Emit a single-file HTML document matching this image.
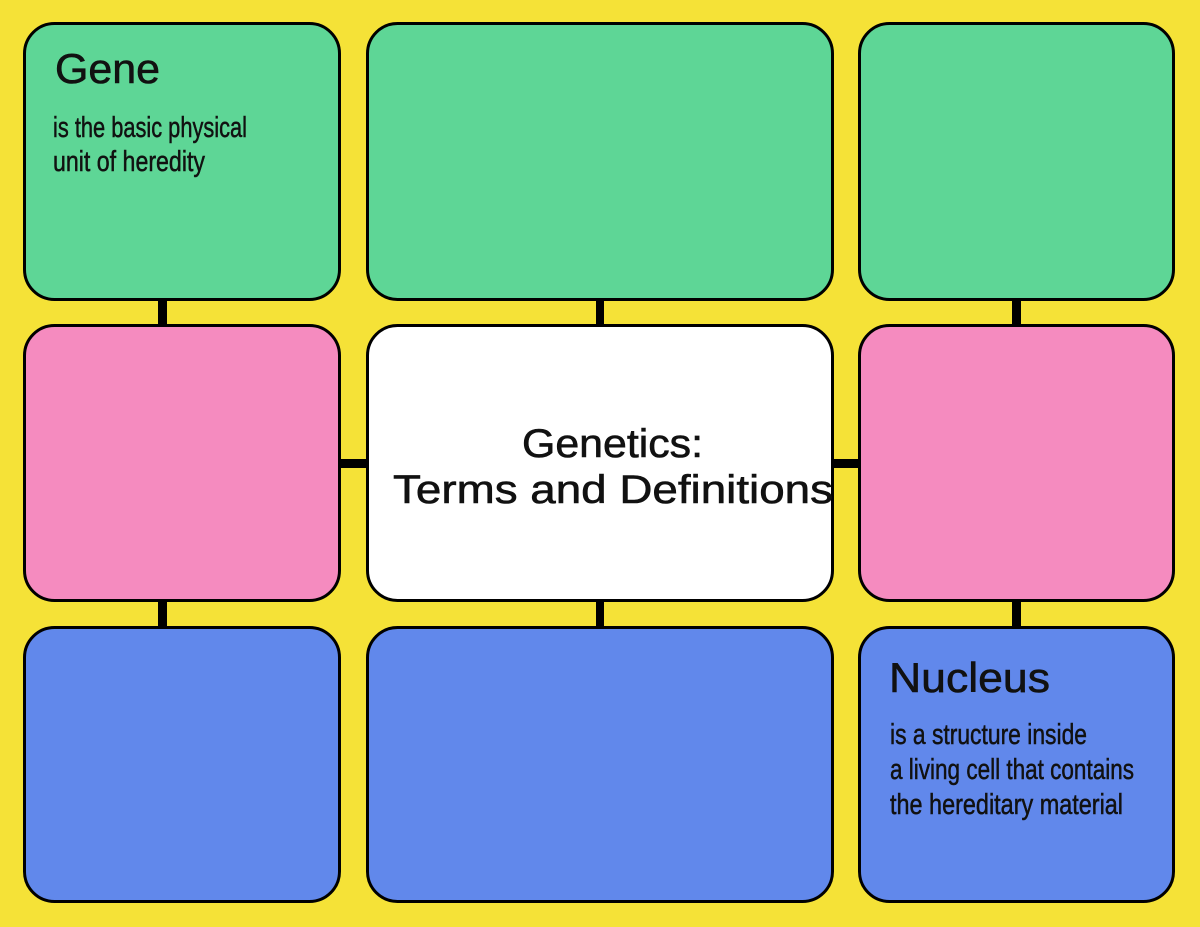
<!DOCTYPE html>
<html>
<head>
<meta charset="utf-8">
<style>
  html, body { margin: 0; padding: 0; background: #F5E237; }
  body { width: 1200px; height: 927px; overflow: hidden; }
  svg { display: block; }
  .t { font-family: "Liberation Sans", "DejaVu Sans", sans-serif; fill: #111; }
  .h { stroke: #111; stroke-width: 0.6; }
  .b { stroke: #111; stroke-width: 0.5; }
</style>
</head>
<body>
<svg width="1200" height="927" viewBox="0 0 1200 927" xmlns="http://www.w3.org/2000/svg">
  <rect x="0" y="0" width="1200" height="927" fill="#F5E237"/>

  <!-- connectors -->
  <g fill="#000">
    <rect x="158" y="298" width="9" height="30"/>
    <rect x="596" y="298" width="8" height="30"/>
    <rect x="1012" y="298" width="9" height="30"/>
    <rect x="158" y="599" width="9" height="30"/>
    <rect x="596" y="599" width="8" height="30"/>
    <rect x="1012" y="599" width="9" height="30"/>
    <rect x="338" y="459" width="31" height="9"/>
    <rect x="831" y="459" width="30" height="9"/>
  </g>

  <!-- boxes -->
  <g stroke="#000" stroke-width="3">
    <rect x="24.5" y="23.5" width="315" height="276" rx="30" fill="#5ED696"/>
    <rect x="367.5" y="23.5" width="465" height="276" rx="30" fill="#5ED696"/>
    <rect x="859.5" y="23.5" width="314" height="276" rx="30" fill="#5ED696"/>
    <rect x="24.5" y="325.5" width="315" height="275" rx="30" fill="#F58BBF"/>
    <rect x="367.5" y="325.5" width="465" height="275" rx="30" fill="#FFFFFF"/>
    <rect x="859.5" y="325.5" width="314" height="275" rx="30" fill="#F58BBF"/>
    <rect x="24.5" y="627.5" width="315" height="274" rx="30" fill="#6188EB"/>
    <rect x="367.5" y="627.5" width="465" height="274" rx="30" fill="#6188EB"/>
    <rect x="859.5" y="627.5" width="314" height="274" rx="30" fill="#6188EB"/>
  </g>

  <!-- Gene -->
  <text class="t h" x="55" y="83" font-size="42" textLength="105" lengthAdjust="spacingAndGlyphs">Gene</text>
  <text class="t b" x="53" y="137" font-size="29" textLength="194" lengthAdjust="spacingAndGlyphs">is the basic physical</text>
  <text class="t b" x="53" y="171" font-size="29" textLength="152" lengthAdjust="spacingAndGlyphs">unit of heredity</text>

  <!-- Center title -->
  <text class="t h" x="522" y="457" font-size="40" textLength="181" lengthAdjust="spacingAndGlyphs">Genetics:</text>
  <text class="t h" x="393" y="503" font-size="40" textLength="440" lengthAdjust="spacingAndGlyphs">Terms and Definitions</text>

  <!-- Nucleus -->
  <text class="t h" x="889" y="692" font-size="42" textLength="161" lengthAdjust="spacingAndGlyphs">Nucleus</text>
  <text class="t b" x="890" y="744" font-size="29" textLength="197" lengthAdjust="spacingAndGlyphs">is a structure inside</text>
  <text class="t b" x="890" y="779" font-size="29" textLength="244" lengthAdjust="spacingAndGlyphs">a living cell that contains</text>
  <text class="t b" x="890" y="814" font-size="29" textLength="233" lengthAdjust="spacingAndGlyphs">the hereditary material</text>
</svg>
</body>
</html>
